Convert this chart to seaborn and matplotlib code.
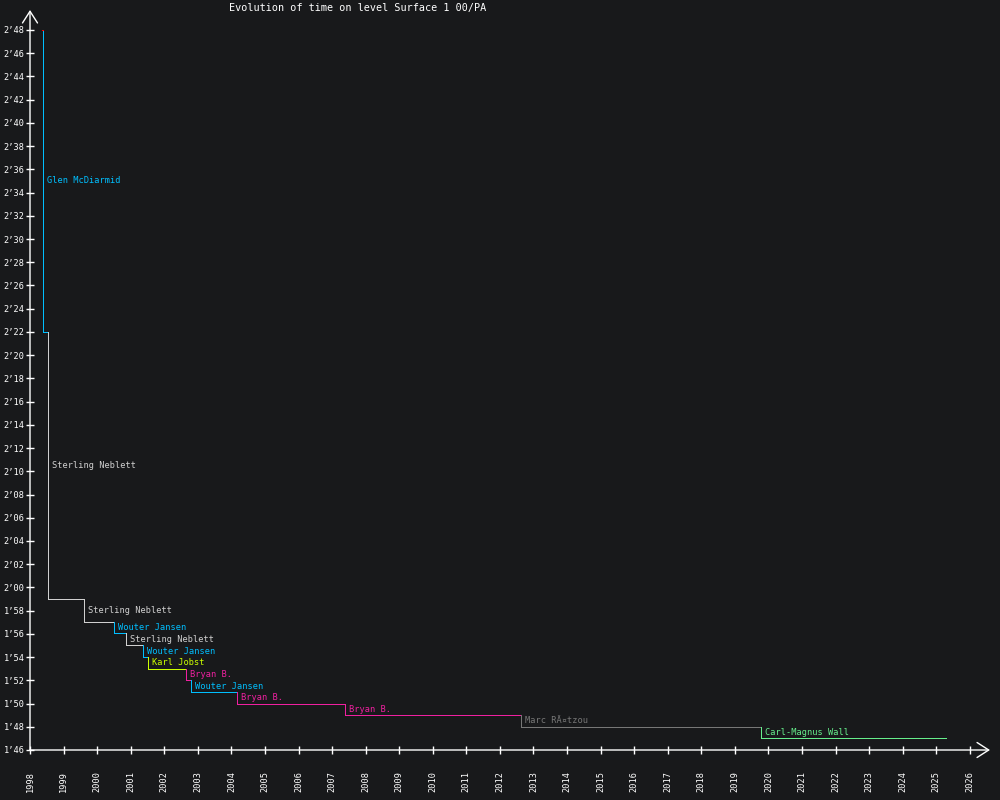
import matplotlib
matplotlib.use("Agg")
import matplotlib.pyplot as plt
from matplotlib.ticker import FuncFormatter
import seaborn as sns

# record history: date (decimal year), time (seconds), holder, colour
dates = [1998.36, 1998.40, 1998.55, 1999.62, 2000.51, 2000.85, 2001.36,
         2001.52, 2002.65, 2002.79, 2004.18, 2007.39, 2012.64, 2019.78]
times = [168.0, 142.0, 119.0, 117.0, 116.1, 115.0, 114.0,
         113.0, 112.0, 111.0, 110.0, 109.0, 108.0, 107.0]
names = ["", "Glen McDiarmid", "Sterling Neblett", "Sterling Neblett",
         "Wouter Jansen", "Sterling Neblett", "Wouter Jansen", "Karl Jobst",
         "Bryan B.", "Wouter Jansen", "Bryan B.", "Bryan B.",
         "Marc RÃ¤tzou", "Carl-Magnus Wall"]
colors = ["#ff0000", "#00bfff", "#d0d0d0", "#d0d0d0", "#00bfff", "#d0d0d0",
          "#00bfff", "#ccff00", "#f020a0", "#00bfff", "#f020a0", "#f020a0",
          "#777777", "#66ee8c"]
end_date = 2025.28
years = list(range(1998, 2027))

bg = "#18191b"
sns.set_theme(style="dark", rc={"axes.facecolor": bg, "figure.facecolor": bg})
plt.rcParams["font.family"] = ["DejaVu Sans Mono"]

fig = plt.figure(figsize=(10, 8), dpi=100)
ax = fig.add_axes([0.03, 0.0625, 0.96, 0.925])

for i in range(len(dates)):
    nxt = dates[i + 1] if i + 1 < len(dates) else end_date
    prev = times[i - 1] if i > 0 else times[i]
    sns.lineplot(x=[dates[i], dates[i], nxt], y=[prev, times[i], times[i]],
                 sort=False, estimator=None, color=colors[i], lw=0.72,
                 antialiased=False, ax=ax, zorder=3 if i == 0 else 2)
    if names[i]:
        ax.annotate(names[i], xy=(dates[i], (prev + times[i]) / 2),
                    xytext=(4, 0), textcoords="offset pixels",
                    va="center", ha="left", color=colors[i], fontsize=6.2)

ax.set_xlim(1998, 2026.6)
ax.set_ylim(106, 169.72)
ax.set_xticks(years)
ax.set_xticklabels([str(y) for y in years], rotation=90)
ax.set_yticks(range(106, 169, 2))
ax.yaxis.set_major_formatter(FuncFormatter(lambda v, p: f"{int(v) // 60}\u2019{int(v) % 60:02d}"))
ax.tick_params(axis="both", colors="white", labelcolor="white", labelsize=6.2,
               direction="inout", length=6, width=1.0, bottom=True, left=True)
ax.tick_params(axis="x", pad=12)
ax.tick_params(axis="y", pad=1)
ax.set_xlabel("")
ax.set_ylabel("")
ax.grid(False)
for s in ax.spines.values():
    s.set_visible(False)

arrow = dict(arrowstyle="->,head_length=0.7,head_width=0.45", color="white",
             lw=1.0, shrinkA=0, shrinkB=0)
ax.annotate("", xy=(1, 0), xytext=(0, 0), xycoords="axes fraction", arrowprops=arrow)
ax.annotate("", xy=(0, 1), xytext=(0, 0), xycoords="axes fraction", arrowprops=arrow)

fig.text(0.229, 0.99, "Evolution of time on level Surface 1 00/PA",
         color="white", fontsize=7.3, va="center", ha="left")

fig.savefig("out.png", dpi=100, facecolor=bg)
